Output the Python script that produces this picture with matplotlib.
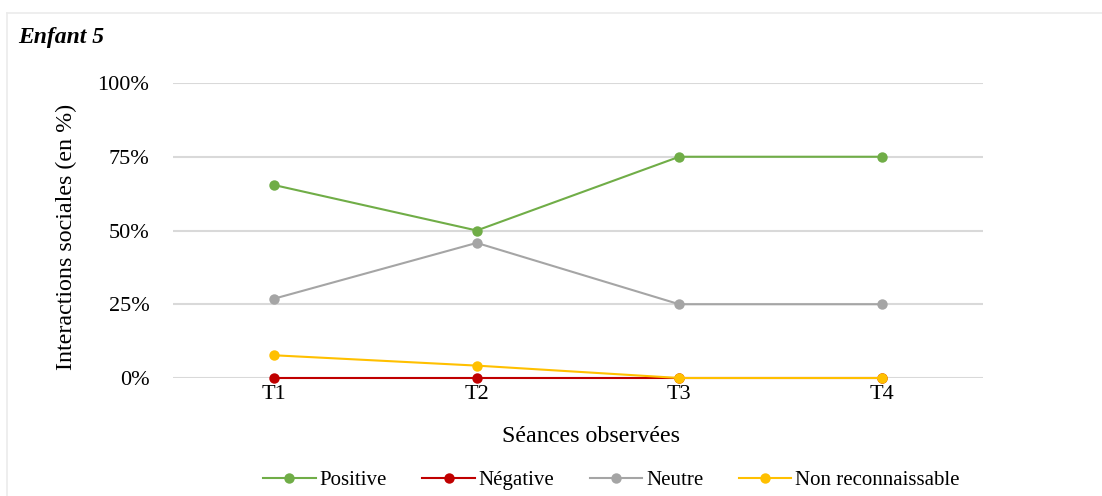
import matplotlib
matplotlib.use("Agg")
import matplotlib.pyplot as plt
from matplotlib.lines import Line2D

plt.rcParams['font.family'] = ['Liberation Serif', 'DejaVu Serif']

categories = ["T1", "T2", "T3", "T4"]
positive = [65.4, 50.0, 75.0, 75.0]
negative = [0.0, 0.0, 0.0, 0.0]
neutre = [26.9, 45.8, 25.0, 25.0]
non_reconnaissable = [7.7, 4.2, 0.0, 0.0]
yticks = [0, 25, 50, 75, 100]
ytick_labels = ["0%", "25%", "50%", "75%", "100%"]

series = [
    ("Positive", positive, "#70AD47"),
    ("Négative", negative, "#C00000"),
    ("Neutre", neutre, "#A5A5A5"),
    ("Non reconnaissable", non_reconnaissable, "#FFC000"),
]

W, H = 1102, 496
fig = plt.figure(figsize=(W / 100, H / 100), dpi=100)
ax = fig.add_axes([173 / W, 1 - 378 / H, (983 - 173) / W, (378 - 83) / H])

x = list(range(len(categories)))
for i, (name, vals, col) in enumerate(series):
    ax.plot(x, vals, color=col, lw=1.5, marker='o', markersize=7.5,
            markeredgewidth=0, label=name, zorder=3 + i, clip_on=False)

ax.set_xlim(-0.5, len(categories) - 0.5)
ax.set_ylim(0, 100)
ax.set_yticks(yticks)
ax.set_yticklabels(ytick_labels)
ax.set_xticks(x)
ax.set_xticklabels(categories)
ax.grid(axis='y', color='#D9D9D9', lw=1.5, zorder=0)
ax.set_axisbelow(True)
for s in ax.spines.values():
    s.set_visible(False)
ax.tick_params(axis='both', length=0, labelsize=16, colors='black')
ax.tick_params(axis='y', pad=17)
ax.tick_params(axis='x', pad=5)

fig.text(591 / W, 1 - 437 / H, "Séances observées", fontsize=17.3,
         ha='center', va='center')
fig.text(66 / W, 1 - 237 / H, "Interactions sociales (en %)", fontsize=17.3,
         ha='center', va='center', rotation=90)

fig.text(18 / W, 1 - 37 / H, "Enfant 5", fontsize=17, fontweight='bold',
         fontstyle='italic', ha='left', va='center')

# figure border
fig.add_artist(Line2D([7 / W, 7 / W], [0, 1 - 13 / H], transform=fig.transFigure,
                      color='#EBEBEB', lw=1.2))
fig.add_artist(Line2D([7 / W, 1], [1 - 13 / H, 1 - 13 / H], transform=fig.transFigure,
                      color='#EBEBEB', lw=1.2))

fig.legend(loc='center', bbox_to_anchor=(611.5 / W, 1 - 480 / H), ncol=4,
           frameon=False, fontsize=15, handlelength=2.5, handletextpad=0.2,
           columnspacing=1.7)

fig.savefig("out.png", dpi=100, facecolor='white')
